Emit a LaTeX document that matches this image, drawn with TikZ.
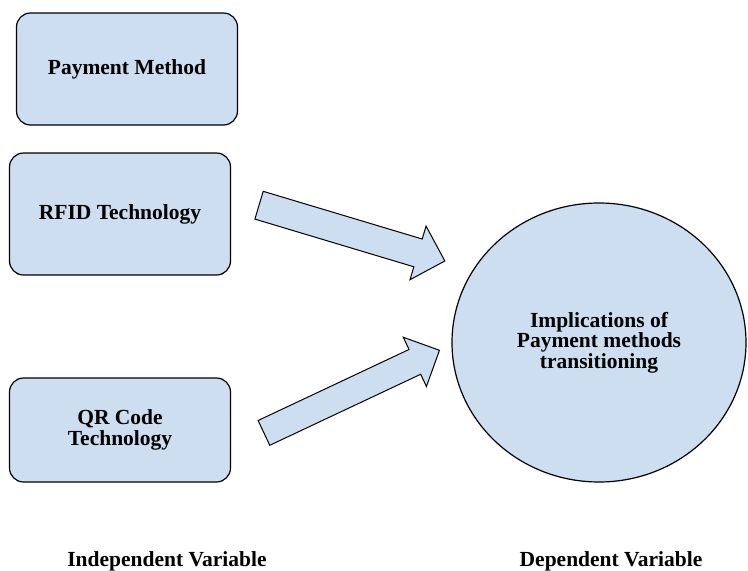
\documentclass[tikz,border=0pt]{standalone}
\usepackage{fontspec}
\setmainfont{Liberation Serif}
\usepackage{tikz}
\usetikzlibrary{shapes.geometric,shapes.arrows}
\definecolor{boxblue}{RGB}{204,222,240}
\tikzset{every node/.style={font=\fontsize{21.5}{20.5}\selectfont\bfseries}}

\begin{document}
\begin{tikzpicture}[x=1pt,y=-1pt,line width=1.2pt]
  \tikzstyle{var}=[rectangle,rounded corners=14pt,draw=black,fill=boxblue,
                   align=center,minimum width=221pt]
  \tikzstyle{blockarrow}=[single arrow,draw=black,fill=boxblue,inner xsep=0pt,
                   line width=1pt,single arrow head extend=13.5pt]
  \useasboundingbox (0,0) rectangle (748,571);

  % independent variables
  \node[var,minimum height=112pt] (pay)  at (127,69)  {Payment Method};
  \node[var,minimum height=122pt] (rfid) at (120,214) {RFID Technology};
  \node[var,minimum height=104pt] (qr)   at (120,430) {QR Code\\Technology};

  % dependent variable
  \node[ellipse,draw=black,fill=boxblue,align=center,
        minimum width=294pt,minimum height=279pt] (impl) at (599,342.5)
        {Implications of\\Payment methods\\transitioning};

  \node[blockarrow,rotate=-16.7,minimum height=194pt,inner ysep=14pt]
        (a1) at (345,231) {};
  \node[blockarrow,rotate=25.2,minimum height=194pt,inner ysep=13.2pt]
        (a2) at (345.5,394.5) {};

  \node (ind) at (167,561) {Independent Variable};
  \node (dep) at (611,561) {Dependent Variable};
\end{tikzpicture}
\end{document}
